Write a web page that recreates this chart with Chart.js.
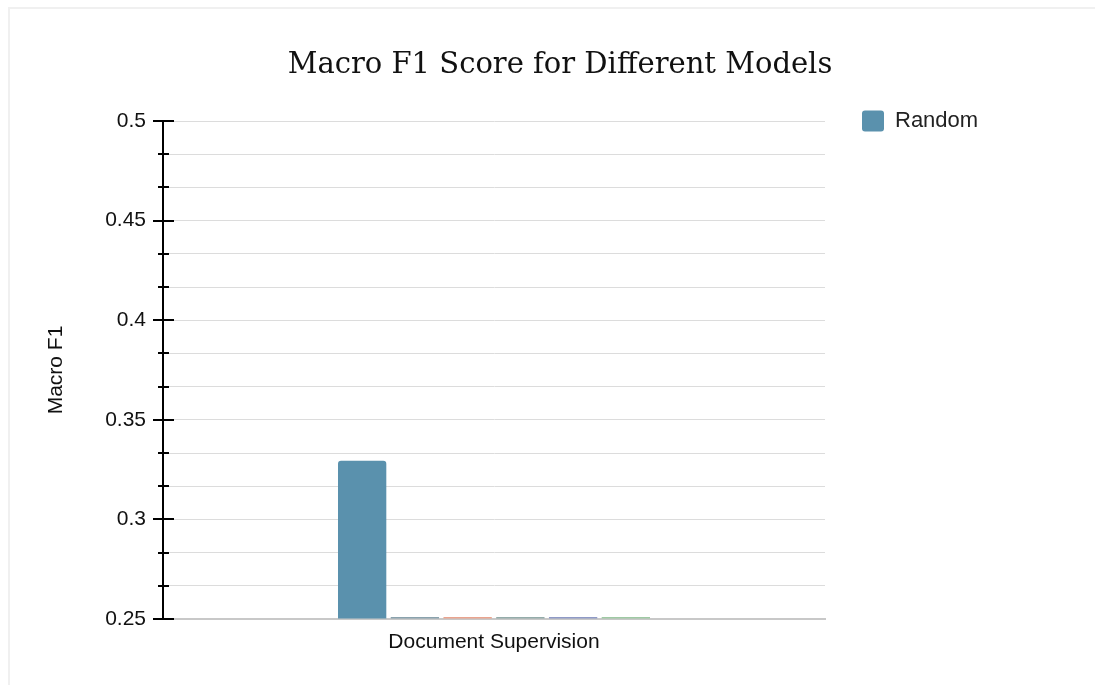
<!DOCTYPE html>
<html>
<head>
<meta charset="utf-8">
<script src="https://cdn.jsdelivr.net/npm/chart.js@4/dist/chart.umd.min.js"></script>
<style>
  html, body { margin: 0; padding: 0; background: #fff; overflow: hidden; }
  #frame { position: absolute; left: 8px; top: 7px; width: 1300px; height: 900px; border: 2px solid #f0f0f0; }
  #wrap { position: absolute; left: 0; top: 0; width: 1095px; height: 685px; }
</style>
</head>
<body>
<div id="frame"></div>
<div id="wrap"><canvas id="c"></canvas></div>
<script>
// ---- data ----
const categories = ['Document Supervision'];
const seriesNames = ['Random', 'Model B', 'Model C', 'Model D', 'Model E', 'Model F'];
const randomValues = [0.3295];
const modelBValues = [0.25];
const modelCValues = [0.25];
const modelDValues = [0.25];
const modelEValues = [0.25];
const modelFValues = [0.25];
const majorTickValues = [0.25, 0.3, 0.35, 0.4, 0.45, 0.5];
const yMin = 0.25, yMax = 0.5;
const yStep = 0.05 / 3;

// ---- styles ----
const seriesColors = ['#5a91ad', '#8aa2ad', '#e9a48f', '#94acaa', '#8f9ac6', '#9fc9a4'];
const allValues = [randomValues, modelBValues, modelCValues, modelDValues, modelEValues, modelFValues];

function isMajor(v) {
  return majorTickValues.some(m => Math.abs(m - v) < 1e-6);
}

const tickMarks = {
  id: 'tickMarks',
  afterDraw(chart) {
    const y = chart.scales.y;
    const ctx = chart.ctx;
    const x0 = chart.chartArea.left;
    ctx.save();
    ctx.strokeStyle = '#000';
    ctx.lineWidth = 2;
    y.ticks.forEach(t => {
      const py = Math.round(y.getPixelForValue(t.value));
      const major = isMajor(t.value);
      const a = major ? 10 : 5, b = major ? 11 : 6;
      ctx.beginPath();
      ctx.moveTo(x0 - a, py);
      ctx.lineTo(x0 + b, py);
      ctx.stroke();
    });
    ctx.restore();
  }
};

const datasets = seriesNames.map((name, i) => ({
  label: name,
  data: allValues[i],
  base: yMin,
  backgroundColor: seriesColors[i],
  borderWidth: 0,
  borderRadius: i === 0 ? 3 : 0,
  borderSkipped: 'bottom',
  minBarLength: 2,
  categoryPercentage: 0.478,
  barPercentage: 0.916
}));

new Chart(document.getElementById('c'), {
  type: 'bar',
  data: { labels: categories, datasets },
  plugins: [tickMarks],
  options: {
    responsive: true,
    maintainAspectRatio: false,
    animation: false,
    layout: { padding: { left: 40, right: 15, top: 7, bottom: 0 } },
    plugins: {
      title: {
        display: true,
        text: 'Macro F1 Score for Different Models',
        color: '#111',
        font: { family: 'DejaVu Serif', size: 29, weight: 'normal' },
        padding: { top: 40.6, bottom: 38.6 }
      },
      legend: {
        position: 'right',
        align: 'start',
        title: { display: true, text: ' ', font: { size: 10 }, padding: { top: 0, bottom: 54 } },
        labels: {
          filter: (item) => item.datasetIndex === 0,
          boxWidth: 22,
          boxHeight: 21,
          padding: 37,
          useBorderRadius: true,
          borderRadius: 3,
          color: '#222',
          font: { family: 'Liberation Sans', size: 22 }
        }
      },
      tooltip: { enabled: false }
    },
    scales: {
      x: {
        grid: { display: false, drawTicks: true, tickLength: 8 },
        border: { display: true, color: '#c8c8c8', width: 2 },
        ticks: { color: '#111', padding: 3, font: { family: 'Liberation Sans', size: 21 } },
        afterFit: (s) => { s.height = 66; s.paddingRight = 270; }
      },
      y: {
        min: yMin,
        max: yMax,
        ticks: {
          stepSize: yStep,
          maxTicksLimit: 30,
          autoSkip: false,
          padding: 3,
          color: '#111',
          font: { family: 'Liberation Sans', size: 21 },
          callback: (v) => isMajor(v) ? String(Math.round(v * 100) / 100) : ''
        },
        grid: { color: '#dcdcdc', lineWidth: 1, drawTicks: true, tickLength: 14, tickColor: 'rgba(0,0,0,0)' },
        border: { display: true, color: '#000', width: 2 },
        title: {
          display: true,
          text: 'Macro F1',
          color: '#111',
          font: { family: 'Liberation Sans', size: 21 },
          padding: { top: 4, bottom: 4 }
        },
        afterFit: (s) => { s.width = 123; s.paddingTop = 121; }
      }
    }
  }
});
</script>
</body>
</html>
